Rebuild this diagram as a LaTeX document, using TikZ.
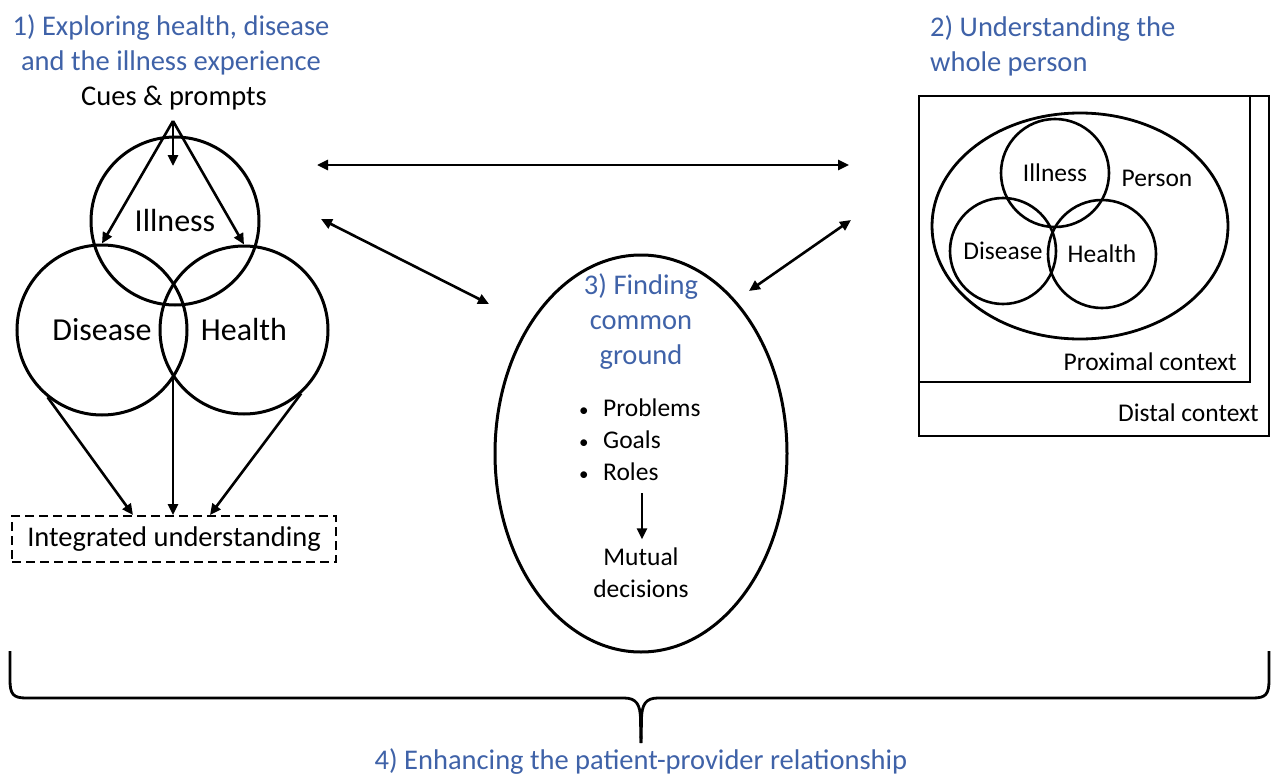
\documentclass[tikz,border=0pt]{standalone}
\usepackage{fontspec}
\setmainfont{Carlito}
\usetikzlibrary{arrows.meta,shapes.geometric}
\definecolor{headblue}{HTML}{3F62A8}
\newcommand\headfont{\fontsize{28.5}{35}\selectfont}
\newcommand\vennfont{\fontsize{32}{38}\selectfont}
\newcommand\bodyfont{\fontsize{28.5}{34}\selectfont}
\newcommand\smallfont{\fontsize{25.5}{32}\selectfont}
\newcommand\dotmark{\makebox[25pt][l]{\hspace{1pt}\fontsize{19}{19}\selectfont\textbullet}}
\tikzset{
  ring/.style={draw,circle,line width=3pt,inner sep=0pt},
  arr/.style={-{Triangle[length=11pt,width=10pt]},line width=2.6pt},
  dblarr/.style={{Triangle[length=11pt,width=10pt]}-{Triangle[length=11pt,width=10pt]},line width=2.6pt},
  headtext/.style={text=headblue,font=\headfont,align=center,inner sep=0pt},
}

\begin{document}
\begin{tikzpicture}[x=1pt,y=-1pt]
\useasboundingbox (0,0) rectangle (1272,776);

% 1) health, disease and illness
\node[headtext] (t1) at (171,44.5) {1) Exploring health, disease\\and the illness experience};
\node[font=\bodyfont,inner sep=0pt] (cues) at (174,98) {Cues \& prompts};
\node[ring,minimum size=168pt,font=\vennfont] (ill) at (175,221) {Illness};
\node[ring,minimum size=170pt,font=\vennfont] (dis) at (102,330) {Disease};
\node[ring,minimum size=168pt,font=\vennfont] (hea) at (244,330) {Health};
\coordinate (cuesfoot) at (173,121);
\coordinate (illtop) at (173,166);
\draw[arr] (cuesfoot) -- (dis.north);
\draw[arr] (cuesfoot) -- (illtop);
\draw[arr] (cuesfoot) -- (hea.north);
\node[draw,dash pattern=on 9pt off 5pt,line width=2pt,minimum width=324pt,minimum height=46pt,font=\bodyfont] (integ) at (174,539) {Integrated understanding};
\coordinate (meet) at (173,377);
\draw[arr] (dis.231) -- ([xshift=-41pt]integ.north);
\draw[arr] (meet) -- ([xshift=-1pt]integ.north);
\draw[arr] (hea.-48) -- ([xshift=36pt]integ.north);

% 3) common ground
\node[draw,ellipse,line width=3pt,minimum width=292pt,minimum height=397pt,inner sep=0pt] (cg) at (641,453.5) {};
\node[headtext] (t3) at (641,322) {3) Finding\\common\\ground};
\node[anchor=west,inner sep=0pt,font=\smallfont,align=left] (bul) at (578,440) {\dotmark Problems\\\dotmark Goals\\\dotmark Roles};
\node[font=\smallfont,align=center,inner sep=0pt] (mut) at (641,572.5) {Mutual\\decisions};
\coordinate (bulfoot) at (642,493);
\draw[arr] (bulfoot) -- ([yshift=8pt]mut.north -| bulfoot);

% 2) whole person
\node[headtext,anchor=west,align=left] (t2) at (930,45.5) {2) Understanding the\\whole person};
\coordinate (outnw) at (919,96);
\coordinate (outse) at (1269,436);
\coordinate (innse) at (1250,382);
\draw[line width=2.8pt] (outnw) rectangle (outse);
\draw[line width=2.8pt] (outnw) rectangle (innse);
\node[draw,ellipse,line width=2.8pt,minimum width=296pt,minimum height=226pt,inner sep=0pt] (per) at (1080,226) {};
\node[ring,line width=2.6pt,minimum size=108pt,font=\smallfont] (ill2) at (1055,173) {Illness};
\node[ring,line width=2.6pt,minimum size=106pt,font=\smallfont] (dis2) at (1003,251) {Disease};
\node[ring,line width=2.6pt,minimum size=108pt,font=\smallfont] (hea2) at (1102,254) {Health};
\node[font=\smallfont,inner sep=0pt] (pers) at (1157,178) {Person};
\node[font=\smallfont,anchor=east,inner sep=0pt] (prox) at (1237,362) {Proximal context};
\node[font=\smallfont,anchor=east,inner sep=0pt] (dist) at (1259,413) {Distal context};

% links between the parts
\coordinate (la) at (317,165);
\coordinate (ra) at (849,165);
\coordinate (lb) at (321,219);
\coordinate (cgl) at (489,304);
\coordinate (rb) at (851,220);
\coordinate (cgr) at (749,291);
\draw[dblarr] (la) -- (ra);
\draw[dblarr] (lb) -- (cgl);
\draw[dblarr] (rb) -- (cgr);

% 4) relationship brace
\coordinate (bl) at (10,651);
\coordinate (br) at (1269,651);
\coordinate (btip) at (641,743);
\draw[line width=2.8pt,line join=round] (bl) -- (10,680) .. controls (10,694) and (13,698) .. (26,698) -- (624,698) .. controls (636,698) and (640.5,704) .. (640.5,720) -- (btip);
\draw[line width=2.8pt,line join=round] (br) -- (1269,680) .. controls (1269,694) and (1266,698) .. (1253,698) -- (658,698) .. controls (646,698) and (641.5,704) .. (641.5,720) -- (btip);
\node[headtext] (t4) at (641,762) {4) Enhancing the patient-provider relationship};
\end{tikzpicture}
\end{document}
